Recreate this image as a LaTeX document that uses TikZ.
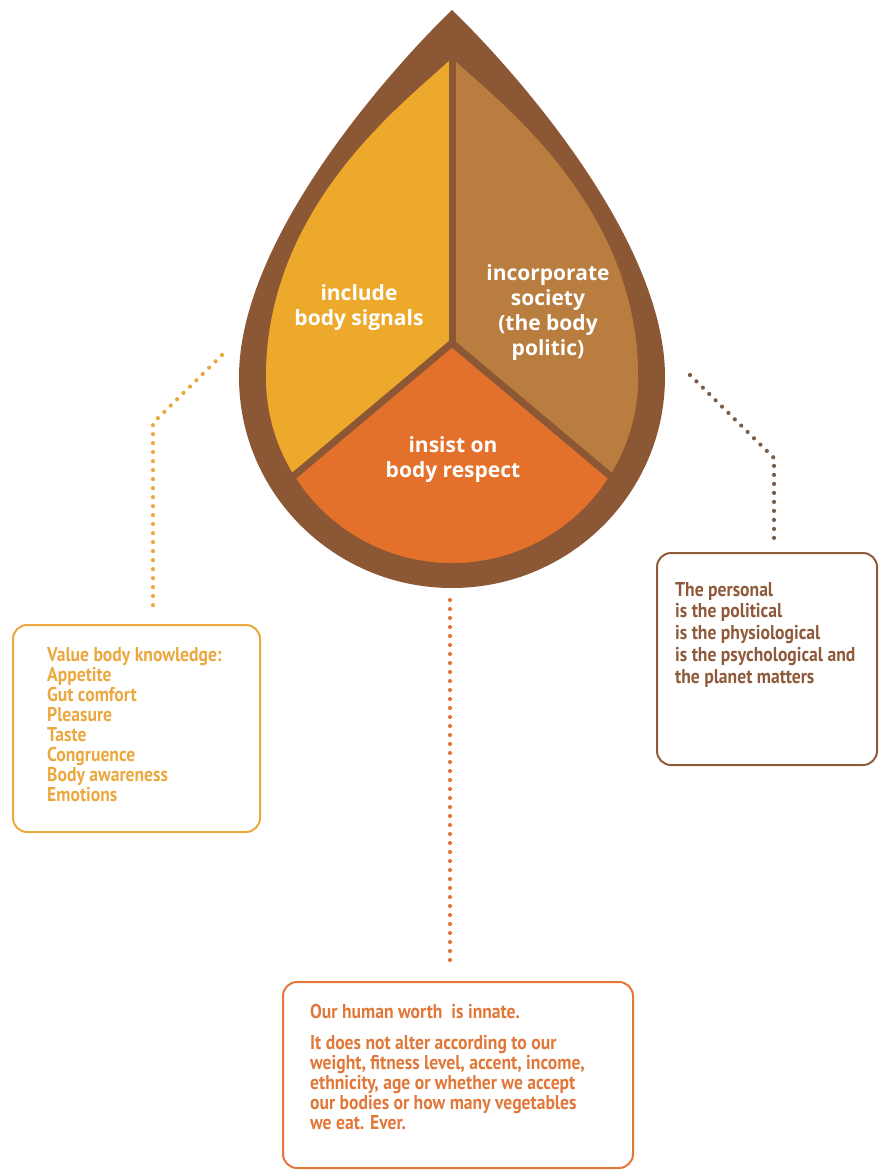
\documentclass[tikz,border=0pt]{standalone}
\usepackage{fontspec}
\setmainfont{Open Sans}
\newfontfamily\boxfont[FakeStretch=0.88]{PT Sans}
\usetikzlibrary{positioning}

\definecolor{bandbrown}{HTML}{8C5734}
\definecolor{signalyellow}{HTML}{EDA92C}
\definecolor{societytan}{HTML}{BA7D40}
\definecolor{respectorange}{HTML}{E3712B}
\definecolor{knowgold}{HTML}{EBA83F}
\definecolor{personalbrown}{HTML}{8E5A3A}
\definecolor{worthorange}{HTML}{E1783A}
\definecolor{dotbrown}{HTML}{7B5E4A}

\begin{document}
\begin{tikzpicture}[x=1pt, y=-1pt,
    petal/.style={text=white, font=\fontsize{21}{25}\selectfont\bfseries, align=center, inner sep=0pt},
    card/.style={draw=#1, line width=2pt, rounded corners=14pt},
    cardtext/.style={text=#1, align=left, anchor=north west, inner sep=0pt},
    dotline/.style={draw=#1, line width=4.2pt, line cap=round, dash pattern=on 0pt off 9pt}
]
\useasboundingbox (0,0) rectangle (879,1170);

% the drop: outer band, then three segments inside
\fill[bandbrown] (452,10) .. controls (410,50) and (239,230) .. (239,377)
    .. controls (239,493.5) and (334.4,588) .. (452,588)
    .. controls (569.6,588) and (665,493.5) .. (665,377)
    .. controls (665,230) and (494,50) .. (452,10) -- cycle;
\coordinate (hub) at (452,343);
\begin{scope}
  \clip (452,58) .. controls (415,95) and (266,200) .. (266,377)
    .. controls (266,479.7) and (349.3,563) .. (452,563)
    .. controls (554.7,563) and (638,479.7) .. (638,377)
    .. controls (638,200) and (489,95) .. (452,58) -- cycle;
  \fill[respectorange] (200,0) rectangle (700,600);
  \fill[signalyellow] (hub) -- (452,0) -- (230,0) -- (230,529) -- cycle;
  \fill[societytan] (hub) -- (452,0) -- (680,0) -- (680,534) -- cycle;
\end{scope}
\foreach \tip in {(452,45), (290,479), (615,480)} {
    \draw[bandbrown, line width=7pt] (hub) -- \tip;
}
\node[petal] (signals) at (359,308) {include\\body signals};
\node[petal] (society) at (548,313) {incorporate\\society\\(the body\\politic)};
\node[petal] (respect) at (453,460) {insist on\\body respect};

% boxes
\node[card=knowgold, minimum width=247pt, minimum height=207pt] (knowbox) at (136.5,728.5) {};
\node[card=personalbrown, minimum width=220pt, minimum height=212pt] (personalbox) at (767,659) {};
\node[card=worthorange, minimum width=350pt, minimum height=186pt] (worthbox) at (458,1075) {};

\node[cardtext=knowgold, font=\boxfont\bfseries\fontsize{20}{20}\selectfont] (knowtext) at (47,647) {%
    Value body knowledge:\\Appetite\\Gut comfort\\Pleasure\\Taste\\Congruence\\Body awareness\\Emotions};
\node[cardtext=personalbrown, font=\boxfont\bfseries\fontsize{20}{21.7}\selectfont] (personaltext) at (675,582) {%
    The personal\\is the political\\is the physiological\\is the psychological and\\the planet matters};
\node[cardtext=worthorange, font=\boxfont\bfseries\fontsize{20}{20}\selectfont] (worthtext) at (310,1004) {%
    Our human worth\ \ is innate.\\[11pt]It does not alter according to our\\weight, fitness level, accent, income,\\ethnicity, age or whether we accept\\our bodies or how many vegetables\\we eat. Ever.};

% dotted leaders
\coordinate (knowstart) at (222,355);
\coordinate (knowbend) at (153,423);
\coordinate (knowend) at (153,607);
\coordinate (personalstart) at (690,375);
\coordinate (personalbend) at (774,458);
\coordinate (personalend) at (774,542);
\coordinate (worthstart) at (450,600);
\coordinate (worthend) at (450,963);
\draw[dotline=knowgold] (knowstart) -- (knowbend) -- (knowend);
\draw[dotline=dotbrown] (personalstart) -- (personalbend) -- (personalend);
\draw[dotline=worthorange] (worthstart) -- (worthend);
\end{tikzpicture}
\end{document}
